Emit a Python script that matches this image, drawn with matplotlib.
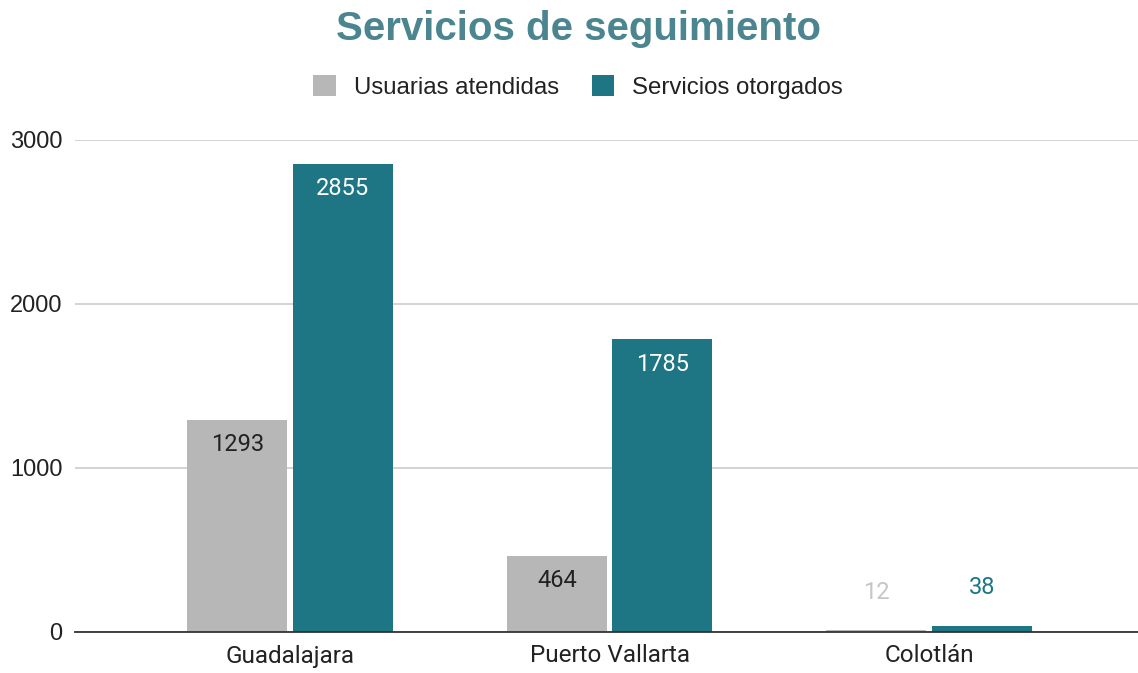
import matplotlib
matplotlib.use("Agg")
import matplotlib.pyplot as plt
import numpy as np

categories = ["Guadalajara", "Puerto Vallarta", "Colotlán"]
usuarias = [1293, 464, 12]
servicios = [2855, 1785, 38]
series_names = ["Usuarias atendidas", "Servicios otorgados"]
yticks = [0, 1000, 2000, 3000]

gray = "#b7b7b7"
teal = "#1e7684"

fig = plt.figure(figsize=(11.38, 6.73), dpi=100)
ax = fig.add_axes([75/1138, 41/673, 1 - 75/1138, (632-140)/673])

x = np.arange(len(categories))
w = 0.313
off = 0.165
b1 = ax.bar(x - off, usuarias, width=w, color=gray, label=series_names[0], zorder=3)
b2 = ax.bar(x + off, servicios, width=w, color=teal, label=series_names[1], zorder=3)

ax.set_xlim(-0.673, 2.654)
ax.set_ylim(0, 3000)
ax.set_yticks(yticks)
ax.set_yticklabels([str(t) for t in yticks], fontfamily="Liberation Sans", fontsize=17, color="#222222")
ax.set_xticks(x)
ax.set_xticklabels(categories, fontfamily="Roboto", fontsize=17.5, color="#222222")
ax.tick_params(axis="both", length=0)
ax.tick_params(axis="y", pad=9)
ax.tick_params(axis="x", pad=9)
for s in ["top", "right", "left"]:
    ax.spines[s].set_visible(False)
ax.spines["bottom"].set_color("#333333")
ax.spines["bottom"].set_linewidth(1.3)
ax.spines["bottom"].set_zorder(4)
ax.grid(axis="y", color="#cccccc", linewidth=1.2, zorder=0)
ax.set_axisbelow(True)

def label(bars, vals, inside_color, outside_color):
    for rect, v in zip(bars, vals):
        cx = rect.get_x() + rect.get_width() / 2
        if v > 200:
            ax.annotate(str(v), (cx, v), xytext=(0, -25), textcoords="offset pixels",
                        ha="center", va="center", fontfamily="Roboto", fontsize=17,
                        color=inside_color, zorder=5)
        else:
            ax.annotate(str(v), (cx, v), xytext=(0, 38), textcoords="offset pixels",
                        ha="center", va="center", fontfamily="Roboto", fontsize=17,
                        color=outside_color, zorder=5)

label(b1, usuarias, "#222222", "#c6c6c6")
label(b2, servicios, "#ffffff", teal)

fig.suptitle("Servicios de seguimiento", x=0.508, y=0.985, va="top",
             fontfamily="Liberation Sans", fontweight="bold", fontsize=29, color="#4a8590")

leg = fig.legend(handles=[b1, b2], labels=series_names, loc="center", bbox_to_anchor=(0.508, 1 - 87/673),
                 ncol=2, frameon=False, prop={"family": "Liberation Sans", "size": 17.3},
                 handlelength=0.95, handleheight=0.95, handletextpad=0.75, columnspacing=1.35)
for t in leg.get_texts():
    t.set_color("#222222")

fig.savefig("out.png", dpi=100)
